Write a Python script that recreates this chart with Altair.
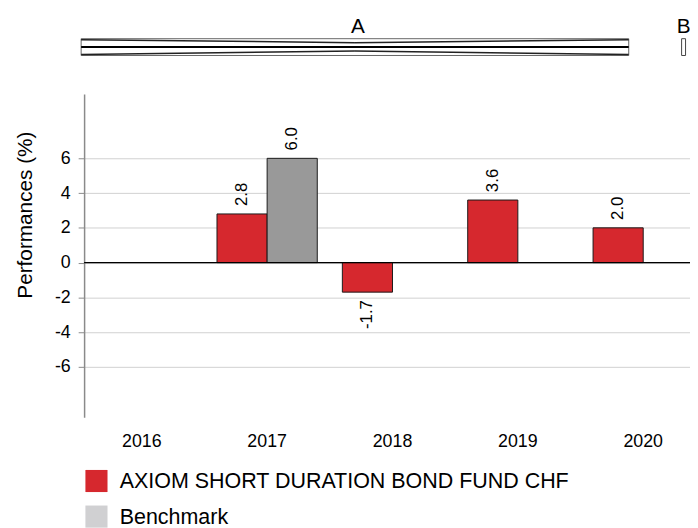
import altair as alt
import pandas as pd

# ---- data ----
years = ["2016", "2017", "2018", "2019", "2020"]
fund_name = "AXIOM SHORT DURATION BOND FUND CHF"
bench_name = "Benchmark"
series_names = [fund_name, bench_name]
fund_values = [None, 2.8, -1.7, 3.6, 2.0]
bench_values = [None, 6.0, None, None, None]
y_ticks = [-6, -4, -2, 0, 2, 4, 6]
header_labels = ["A", "B"]

# ---- styles ----
RED = "#d6282e"
BAR_GRAY = "#999999"
LEGEND_GRAY = "#d0d0d2"
FONT = "Liberation Sans"

rows = []
for i, y in enumerate(years):
    rows.append({"year": y, "series": fund_name, "value": fund_values[i]})
    rows.append({"year": y, "series": bench_name, "value": bench_values[i]})
df = pd.DataFrame(rows)

x_enc = alt.X(
    "year:N",
    scale=alt.Scale(domain=years, range=[0, 624], paddingInner=0.2, paddingOuter=0.06),
    axis=alt.Axis(title=None, labelAngle=0, ticks=False, tickSize=0, domain=False,
                  labelFontSize=18, labelPadding=16, labelColor="#000", labelFont=FONT),
)
xo_enc = alt.XOffset("series:N", scale=alt.Scale(domain=series_names))
y_scale = alt.Scale(domain=[-8.9, 9.7], nice=False, zero=False)

base = alt.Chart(df)

bars = base.mark_bar(stroke="#1a1a1a", strokeWidth=1).encode(
    x=x_enc,
    xOffset=xo_enc,
    y=alt.Y(
        "value:Q",
        scale=y_scale,
        axis=alt.Axis(
            values=y_ticks, grid=True, gridColor="#d0d0d0", gridWidth=1,
            domainColor="#8a8a8a", domainWidth=1.5,
            tickColor="#8a8a8a", tickSize=6, tickWidth=1,
            labelFontSize=18, labelPadding=8, labelColor="#000", labelFont=FONT,
            labelExpr="replace(datum.label, '\u2212', '-')",
            title="Performances (%)", titleFontSize=21, titleFont=FONT,
            titleFontWeight="normal", titleColor="#000",
            titleAngle=270, titleX=-53, titleY=122,
            titleAlign="center", titleBaseline="alphabetic",
        ),
    ),
    y2=alt.datum(0),
    fill=alt.Fill("series:N", scale=alt.Scale(domain=series_names, range=[RED, BAR_GRAY]),
                  legend=None),
)

zero_rule = alt.Chart(alt.Data(values=[{"z": 0}])).mark_rule(
    color="#000", strokeWidth=1.3
).encode(y=alt.datum(0, scale=y_scale))

lab_base = base.transform_filter("datum.value != null").transform_calculate(
    lab="replace(format(datum.value, '.1f'), '\u2212', '-')"
)
labels_pos = lab_base.transform_filter("datum.value >= 0").mark_text(
    angle=270, align="left", baseline="middle", dx=8, fontSize=17, font=FONT, color="#000"
).encode(
    x=x_enc, xOffset=xo_enc, y=alt.Y("value:Q", scale=y_scale), text="lab:N",
)
labels_neg = lab_base.transform_filter("datum.value < 0").mark_text(
    angle=270, align="right", baseline="middle", dx=-8, fontSize=17, font=FONT, color="#000"
).encode(
    x=x_enc, xOffset=xo_enc, y=alt.Y("value:Q", scale=y_scale), text="lab:N",
)

legend_layer = base.transform_filter("false").mark_square(opacity=1, filled=True).encode(
    color=alt.Color(
        "series:N",
        scale=alt.Scale(domain=series_names, range=[RED, LEGEND_GRAY]),
        legend=alt.Legend(
            title=None, orient="none", legendX=1, legendY=380, direction="vertical",
            symbolType="square", symbolSize=500, symbolStrokeWidth=0, symbolOpacity=1,
            labelFontSize=21.7, labelFont=FONT, labelColor="#000", labelOffset=12,
            rowPadding=12, padding=0, labelLimit=600,
        ),
    )
)

# ---- header (decorative strip with "A" and "B") ----
one = alt.Data(values=[{"k": 0}])
hdr_text = alt.Chart(alt.Data(values=[{"t": header_labels[0], "px": 277},
                                      {"t": header_labels[1], "px": 606.5}])).mark_text(
    fontSize=21, font=FONT, color="#000", baseline="alphabetic", align="center"
).encode(x=alt.X("px:Q", scale=None), y=alt.value(-62), text="t:N")

hdr_rect = alt.Chart(one).mark_rect(fillOpacity=0, stroke="#666666", strokeWidth=1).encode(
    x=alt.value(-3), x2=alt.value(551), y=alt.value(-56), y2=alt.value(-39)
)
hdr_mid = alt.Chart(one).mark_rule(color="#000", strokeWidth=2).encode(
    x=alt.value(-3), x2=alt.value(551), y=alt.value(-47.5), y2=alt.value(-47.5)
)
hdr_l1 = alt.Chart(one).mark_rule(color="#222", strokeWidth=1.5).encode(
    x=alt.value(-3), x2=alt.value(274), y=alt.value(-55), y2=alt.value(-52)
)
hdr_l2 = alt.Chart(one).mark_rule(color="#222", strokeWidth=1.5).encode(
    x=alt.value(274), x2=alt.value(551), y=alt.value(-52), y2=alt.value(-55)
)
hdr_l3 = alt.Chart(one).mark_rule(color="#222", strokeWidth=1.5).encode(
    x=alt.value(-3), x2=alt.value(274), y=alt.value(-40), y2=alt.value(-43.5)
)
hdr_l4 = alt.Chart(one).mark_rule(color="#222", strokeWidth=1.5).encode(
    x=alt.value(274), x2=alt.value(551), y=alt.value(-43.5), y2=alt.value(-40)
)
hdr_b = alt.Chart(one).mark_rect(fillOpacity=0, stroke="#444", strokeWidth=1).encode(
    x=alt.value(604.5), x2=alt.value(608.5), y=alt.value(-56), y2=alt.value(-39)
)

chart = alt.layer(
    bars, zero_rule, labels_pos, labels_neg, legend_layer,
    hdr_rect, hdr_mid, hdr_l1, hdr_l2, hdr_l3, hdr_l4, hdr_b, hdr_text,
).resolve_scale(
    color="independent", fill="independent"
).properties(
    width=613, height=327,
    padding={"left": 77, "top": 84, "right": 0, "bottom": 109},
    autosize=alt.AutoSizeParams(type="none"),
).configure(
    font=FONT
).configure_view(
    strokeWidth=0
)

chart.save("out.html", embed_options={"renderer": "svg", "actions": False})
